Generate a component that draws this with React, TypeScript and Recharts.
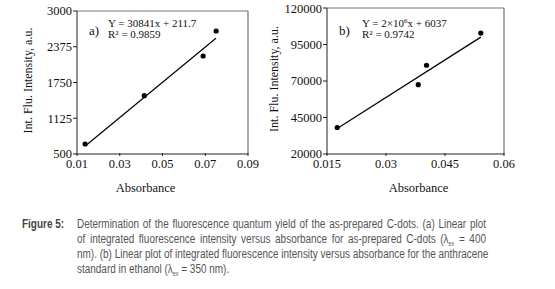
import React from "react";
import { ComposedChart, XAxis, YAxis, Scatter, Line, ReferenceLine, Label } from "recharts";

const pointsA = [
  { x: 0.0138, y: 675 },
  { x: 0.0415, y: 1519 },
  { x: 0.069, y: 2213 },
  { x: 0.0751, y: 2650 },
];
const fitA = [
  { x: 0.014, y: 643 },
  { x: 0.075, y: 2525 },
];
const xTicksA = [0.01, 0.03, 0.05, 0.07, 0.09];
const yTicksA = [500, 1125, 1750, 2375, 3000];

const pointsB = [
  { x: 0.0176, y: 38157 },
  { x: 0.0382, y: 67455 },
  { x: 0.0403, y: 80797 },
  { x: 0.0541, y: 102806 },
];
const fitB = [
  { x: 0.0176, y: 37469 },
  { x: 0.0541, y: 100055 },
];
const xTicksB = [0.015, 0.03, 0.045, 0.06];
const yTicksB = [20000, 45000, 70000, 95000, 120000];

const serif = "'Liberation Serif', 'DejaVu Serif', serif";
const axisColor = "#222";

const Dot = (props: any) => <circle cx={props.cx} cy={props.cy} r={2.6} fill="#000" />;

const XTick = (props: any) => {
  const { x, y, payload } = props;
  return (
    <g>
      <line x1={x} y1={y} x2={x} y2={y - 3} stroke={axisColor} strokeWidth={1} />
      <text x={x} y={y + 3} dy="0.71em" textAnchor="middle" fontFamily={serif} fontSize={12.5} fill="#111">
        {String(payload.value)}
      </text>
    </g>
  );
};

const YTick = (props: any) => {
  const { x, y, payload } = props;
  return (
    <text x={x} y={y} dy="0.34em" textAnchor="end" fontFamily={serif} fontSize={12.5} fill="#111">
      {String(payload.value)}
    </text>
  );
};

function Panel(props: {
  points: any[];
  fit: any[];
  xTicks: number[];
  yTicks: number[];
  width: number;
  yAxisWidth: number;
  top: number;
  right: number;
  yLabelX: number;
  xLabelDx: number;
  tag: string;
  tagX: number;
  eqX: number;
  eq: React.ReactNode;
  r2: string;
}) {
  const xd = [props.xTicks[0], props.xTicks[props.xTicks.length - 1]];
  const yd = [props.yTicks[0], props.yTicks[props.yTicks.length - 1]];
  const plotH = 200 - 46 - props.top;
  return (
    <ComposedChart
      width={props.width}
      height={200}
      margin={{ top: props.top, right: props.right, bottom: 0, left: 0 }}
    >
      <XAxis
        type="number"
        dataKey="x"
        domain={xd}
        ticks={props.xTicks}
        height={46}
        tickSize={0}
        tickLine={false}
        tick={<XTick />}
        axisLine={{ stroke: axisColor }}
        allowDataOverflow
      >
        <Label
          content={(p: any) => {
            const vb = p.viewBox;
            const cx = vb.x + vb.width / 2 + props.xLabelDx;
            return (
              <text x={cx} y={192} textAnchor="middle" fontFamily={serif} fontSize={12.5} fill="#111">
                Absorbance
              </text>
            );
          }}
        />
      </XAxis>
      <YAxis
        type="number"
        dataKey="y"
        domain={yd}
        ticks={props.yTicks}
        width={props.yAxisWidth}
        tickSize={4}
        tickMargin={1}
        tickLine={{ stroke: axisColor }}
        tick={<YTick />}
        axisLine={{ stroke: axisColor }}
        allowDataOverflow
      >
        <Label
          content={() => {
            const cx = props.yLabelX;
            const cy = props.top + plotH / 2 - 2;
            return (
              <text
                x={cx}
                y={cy}
                transform={`rotate(-90 ${cx} ${cy})`}
                textAnchor="middle"
                dominantBaseline="central"
                fontFamily={serif}
                fontSize={12}
                fill="#111"
              >
                Int. Flu. Intensity, a.u.
              </text>
            );
          }}
        />
      </YAxis>
      <ReferenceLine y={yd[1]} stroke="#777" strokeWidth={1} />
      <ReferenceLine x={xd[1]} stroke="#555" strokeWidth={1} />
      <Line
        data={props.fit}
        dataKey="y"
        stroke="#000"
        strokeWidth={1.2}
        dot={false}
        isAnimationActive={false}
      />
      <Scatter data={props.points} dataKey="y" shape={<Dot />} isAnimationActive={false} />
      <Label
        content={() => (
          <g fontFamily={serif} fill="#111">
            <text x={props.tagX} y={35} fontSize={13}>
              {props.tag}
            </text>
            <text x={props.eqX} y={27} fontSize={11}>
              {props.eq}
            </text>
            <text x={props.eqX} y={38} fontSize={11}>
              {props.r2}
            </text>
          </g>
        )}
      />
    </ComposedChart>
  );
}

const captionFont = "'Liberation Sans', Arial, sans-serif";
const scale = 0.83;
const subStyle: React.CSSProperties = { fontSize: 6.5, verticalAlign: "-3px", lineHeight: 0 };
const lineJ: React.CSSProperties = { textAlign: "justify", textAlignLast: "justify", whiteSpace: "nowrap" as any };

export default function App() {
  return (
    <div style={{ position: "absolute", left: 0, top: 0, width: 555, height: 289, background: "#fff", overflow: "hidden" }}>
      <div style={{ position: "absolute", left: 0, top: 0 }}>
        <Panel
          points={pointsA}
          fit={fitA}
          xTicks={xTicksA}
          yTicks={yTicksA}
          width={275}
          yAxisWidth={77}
          top={11}
          right={27}
          yLabelX={28}
          xLabelDx={-17}
          tag="a)"
          tagX={89}
          eqX={108}
          eq="Y = 30841x + 211.7"
          r2="R² = 0.9859"
        />
      </div>
      <div style={{ position: "absolute", left: 262, top: 0 }}>
        <Panel
          points={pointsB}
          fit={fitB}
          xTicks={xTicksB}
          yTicks={yTicksB}
          width={270}
          yAxisWidth={65}
          top={8}
          right={28}
          yLabelX={12}
          xLabelDx={3}
          tag="b)"
          tagX={77}
          eqX={100}
          eq={
            <>
              Y = 2×10<tspan dy={-4} fontSize={7}>6</tspan>
              <tspan dy={4}>x + 6037</tspan>
            </>
          }
          r2="R² = 0.9742"
        />
      </div>
      <div
        style={{
          position: "absolute",
          left: 22,
          top: 217,
          fontFamily: captionFont,
          fontSize: 12,
          lineHeight: "15px",
          color: "#444",
          fontWeight: "bold",
          transform: `scaleX(${scale})`,
          transformOrigin: "left top",
          whiteSpace: "nowrap",
        }}
      >
        Figure 5:
      </div>
      <div
        style={{
          position: "absolute",
          left: 77,
          top: 217,
          width: 409 / scale,
          fontFamily: captionFont,
          fontSize: 12,
          lineHeight: "15px",
          color: "#555",
          transform: `scaleX(${scale})`,
          transformOrigin: "left top",
        }}
      >
        <div style={lineJ}>
          Determination of the fluorescence quantum yield of the as-prepared C-dots. (a) Linear plot
        </div>
        <div style={lineJ}>
          of integrated fluorescence intensity versus absorbance for as-prepared C-dots (λ<sub style={subStyle}>ex</sub> = 400
        </div>
        <div style={lineJ}>
          nm). (b) Linear plot of integrated fluorescence intensity versus absorbance for the anthracene
        </div>
        <div style={{ whiteSpace: "nowrap" }}>
          standard in ethanol (λ<sub style={subStyle}>ex</sub> = 350 nm).
        </div>
      </div>
    </div>
  );
}
